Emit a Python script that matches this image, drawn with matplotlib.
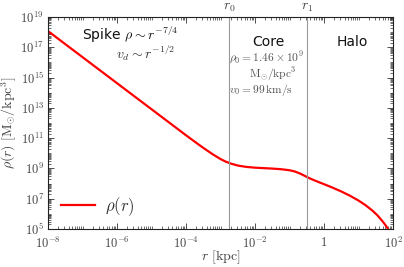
import numpy as np
import matplotlib
matplotlib.use("Agg")
import matplotlib.pyplot as plt
from matplotlib.ticker import LogLocator, FixedLocator, NullFormatter, FuncFormatter

plt.rcParams['mathtext.fontset'] = 'cm'
plt.rcParams['font.family'] = ['DejaVu Sans']

# data (log10 values)
log_r = [-8.0, -7.5, -7.0, -6.5, -6.0, -5.5, -5.0, -4.5, -4.0, -3.75, -3.5, -3.25,
         -3.0, -2.85, -2.7, -2.5, -2.25, -2.0, -1.75, -1.5, -1.25, -1.0, -0.85,
         -0.7, -0.55, -0.4, -0.2, 0.0, 0.25, 0.5, 0.75, 1.0, 1.2, 1.4, 1.55, 1.7, 1.8, 1.9]
log_rho = [18.07, 17.21, 16.35, 15.49, 14.63, 13.77, 12.91, 12.05, 11.19, 10.77, 10.36, 9.97,
           9.62, 9.45, 9.32, 9.19, 9.10, 9.05, 9.02, 8.99, 8.95, 8.88, 8.80,
           8.67, 8.50, 8.33, 8.14, 7.96, 7.73, 7.48, 7.20, 6.88, 6.58, 6.22, 5.90, 5.50, 5.20, 4.85]
r0 = 1.8e-3
r1 = 0.33

r = 10 ** np.array(log_r)
rho = 10 ** np.array(log_rho)

fig = plt.figure(figsize=(4.04, 2.67), dpi=100)
ax = fig.add_axes([48/404, 1 - 229/267, (393-48)/404, (229-17)/267])

ax.plot(r, rho, color='#ff0000', lw=1.6, label=r'$\rho(r)$')
ax.axvline(r0, color='#999999', lw=0.8)
ax.axvline(r1, color='#999999', lw=0.8)

ax.set_xscale('log')
ax.set_yscale('log')
ax.set_xlim(1e-8, 1e2)
ax.set_ylim(1e5, 1e19)

tc = '#444444'
ax.xaxis.set_major_locator(FixedLocator([1e-8, 1e-6, 1e-4, 1e-2, 1, 1e2]))
ax.xaxis.set_minor_locator(LogLocator(base=10, subs=np.arange(1, 10), numticks=100))
ax.xaxis.set_minor_formatter(NullFormatter())
def xfmt(v, p):
    e = int(round(np.log10(v)))
    if e == 0:
        return r'$1$'
    return r'$10^{%d}$' % e
ax.xaxis.set_major_formatter(FuncFormatter(xfmt))
ax.yaxis.set_major_locator(FixedLocator([10.0**k for k in range(5, 20, 2)]))
ax.yaxis.set_minor_locator(LogLocator(base=10, subs=np.arange(1, 10), numticks=100))
ax.yaxis.set_minor_formatter(NullFormatter())
ax.yaxis.set_major_formatter(FuncFormatter(lambda v, p: r'$10^{%d}$' % int(round(np.log10(v)))))

ax.tick_params(which='both', direction='in', top=True, right=True, colors='#333333',
               labelcolor=tc, labelsize=9)
ax.tick_params(which='major', length=4, width=0.6)
ax.tick_params(which='minor', length=2, width=0.5)
ax.tick_params(axis='x', pad=5)
ax.tick_params(axis='y', pad=3)
for s in ax.spines.values():
    s.set_linewidth(0.8)
    s.set_color('#222222')

ax.set_xlabel(r'$r\ [\mathrm{kpc}]$', fontsize=10, color=tc, labelpad=-2)
ax.set_ylabel(r'$\rho(r)\ [\mathrm{M}_{\odot}/\mathrm{kpc}^3]$', fontsize=10, color=tc, labelpad=1)

trans = ax.get_xaxis_transform()
ax.text(r0, 1.015, r'$r_0$', transform=trans, ha='center', va='bottom', fontsize=10, color=tc)
ax.text(r1, 1.015, r'$r_1$', transform=trans, ha='center', va='bottom', fontsize=10, color=tc)

ax.text(1.0e-7, 10**17.8, r'Spike $\rho\sim r^{-7/4}$', fontsize=10, color='#111111', va='center')
ax.text(4.9e-5, 10**16.6, r'$v_d\sim r^{-1/2}$', fontsize=10, color='#333333', va='center', ha='right')
ax.text(2.4e-2, 10**17.35, 'Core', fontsize=10, color='#111111', ha='center', va='center')
ax.text(6.5, 10**17.35, 'Halo', fontsize=10, color='#111111', ha='center', va='center')
ax.text(1.75e-3, 10**16.3, r'$\rho_0 = 1.46\times10^9$', fontsize=8.3, color='#555555', va='center')
ax.text(6.5e-3, 10**15.22, r'$\mathrm{M}_{\odot}/\mathrm{kpc}^3$', fontsize=8.3, color='#555555', va='center')
ax.text(1.75e-3, 10**14.16, r'$v_0 = 99\,\mathrm{km/s}$', fontsize=8.3, color='#555555', va='center')

leg = ax.legend(loc='center left', frameon=False, fontsize=12, handlelength=2.0,
                bbox_to_anchor=(-0.005, 0.105), labelcolor='#333333', handletextpad=0.6)

fig.savefig('out.png', dpi=100)
